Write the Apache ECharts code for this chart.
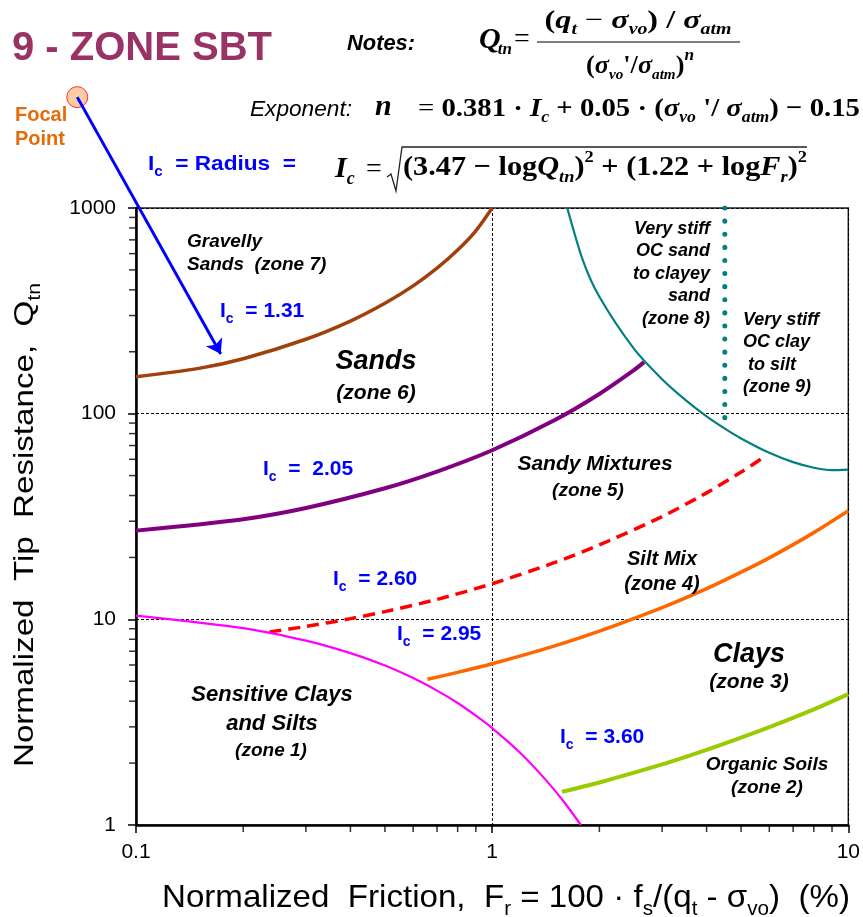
<!DOCTYPE html>
<html><head><meta charset="utf-8">
<script src="https://cdn.jsdelivr.net/npm/echarts@6/dist/echarts.min.js"></script>
<style>html,body{margin:0;padding:0;background:#fff}#c{width:863px;height:917px}</style>
</head><body><div id="c"></div>
<script>
// ---------- data ----------
const xTicks = [0.1, 1, 10];
const yTicks = [1, 10, 100, 1000];
const xMinorTicks = [0.2,0.3,0.4,0.5,0.6,0.7,0.8,0.9,2,3,4,5,6,7,8,9];
const yMinorTicks = [2,3,4,5,6,7,8,9,20,30,40,50,60,70,80,90,200,300,400,500,600,700,800,900];

const ic131F = [0.1, 0.15, 0.2, 0.3, 0.4, 0.5, 0.6, 0.7, 0.8, 0.9, 1.0];
const ic131Q = [151, 166, 185, 230, 282, 344, 418, 510, 625, 775, 1000];

const ic205F = [0.1, 0.2, 0.3, 0.5, 0.7, 1.0, 1.5, 2.0, 2.5, 2.67];
const ic205Q = [27.0, 30.7, 34.8, 43.4, 52.3, 66.4, 93.1, 124.6, 162.6, 178];

const ic260F = [0.237, 0.3, 0.4, 0.5, 0.7, 1.0, 1.5, 2.0, 3.0, 4.0, 5.0, 5.7];
const ic260Q = [8.69, 9.23, 10.08, 10.9, 12.5, 14.9, 18.9, 23.0, 31.6, 41.2, 52.0, 60.3];

const ic295F = [0.658, 0.8, 1.0, 1.5, 2.0, 3.0, 4.0, 5.0, 6.0, 8.0, 10];
const ic295Q = [5.11, 5.52, 6.08, 7.43, 8.76, 11.4, 14.1, 16.96, 19.9, 26.4, 33.7];

const ic360F = [1.57, 2.0, 3.0, 4.0, 5.0, 6.0, 8.0, 10];
const ic360Q = [1.45, 1.61, 1.97, 2.32, 2.66, 2.99, 3.65, 4.33];

const zone1F = [0.1, 0.2, 0.3, 0.4, 0.5, 0.6, 0.7, 0.8, 0.9, 1.0, 1.2, 1.4, 1.6, 1.775];
const zone1Q = [10.43, 9.07, 7.88, 6.85, 5.96, 5.18, 4.50, 3.92, 3.40, 2.96, 2.24, 1.69, 1.28, 1.0];

const zone8F = [1.625, 1.8, 2.0, 2.5, 3.0, 3.5, 4.0, 4.5, 5.0, 6.0, 7.0, 8.0, 9.0, 10];
const zone8Q = [1000, 553, 370, 207, 147, 116, 97, 84.6, 75.8, 64.5, 58.1, 54.6, 53.2, 53.5];

const zone9F = [4.5, 4.5];
const zone9Q = [1000, 85];

const focalF = [0.0684];
const focalQ = [3460];
const arrowTipF = [0.173];
const arrowTipQ = [195];

// ---------- helpers ----------
const zip = (a, b) => a.map((v, i) => [v, b[i]]);
const SANS = 'Liberation Sans', SERIF = 'Liberation Serif';
const mctx = document.createElement('canvas').getContext('2d');
function fontStr(p) {
  return (p.i ? 'italic ' : '') + (p.b ? 'bold ' : '') + p.s + 'px "' + (p.f || SERIF) + '"';
}
function seqGroup(parts, opt) {
  let x = 0; const els = [];
  for (const p of parts) {
    x += p.g || 0;
    const font = fontStr(p);
    mctx.font = font;
    const w = mctx.measureText(p.t).width;
    els.push({type: 'text', x: x, y: (p.dy || 0) - 0.35 * p.s,
      style: {text: p.t, font: font, fill: p.c || opt.color || '#000', align: 'left', verticalAlign: 'middle'}});
    x += w;
  }
  const off = opt.align === 'center' ? -x / 2 : opt.align === 'right' ? -x : 0;
  els.forEach(e => e.x += off);
  const sx = opt.width ? opt.width / x : 1;
  return {type: 'group', x: opt.x, y: opt.y, scaleX: sx, rotation: opt.rot || 0, children: els, z: 50};
}
function label(x, capTop, text, size, lh, align, extra) {
  extra = extra || {};
  return {type: 'text', x: x, y: capTop + 0.366 * size - lh / 2, z: 50,
    style: {text: text, font: (extra.noItalic ? '' : 'italic ') + 'bold ' + size + 'px "' + SANS + '"',
      fill: extra.color || '#000', align: align, verticalAlign: 'top', lineHeight: lh}};
}
function icLabel(x, base, rest, width) {
  return seqGroup([
    {t: 'I', s: 21, b: true, f: SANS},
    {t: 'c', s: 14, b: true, f: SANS, dy: 5},
    {t: rest, s: 21, b: true, f: SANS}
  ], {x: x, y: base, color: '#0000FF', width: width});
}

// ---------- graphics (text annotations) ----------
const S = (t, s, o) => Object.assign({t: t, s: s}, o || {});
const graphics = [
  seqGroup([S('9 - ZONE SBT', 40, {b: true, f: SANS})], {x: 12, y: 63, color: '#993366', width: 260}),
  seqGroup([S('Notes:', 22, {b: true, i: true, f: SANS})], {x: 347, y: 52, width: 68}),
  // Qtn formula
  seqGroup([S('Q', 30, {b: true, i: true}), S('tn', 17, {b: true, i: true, dy: 5, g: -3})], {x: 479, y: 51}),
  seqGroup([S('=', 28)], {x: 514, y: 49}),
  {type: 'line', z: 50, shape: {x1: 537, y1: 42, x2: 740, y2: 42}, style: {stroke: '#555', lineWidth: 1.5}},
  seqGroup([S('(', 26, {b: true}), S('q', 26, {b: true, i: true}), S('t', 16, {b: true, i: true, dy: 5}),
    S(' − ', 26), S('σ', 26, {b: true, i: true}), S('vo', 16, {b: true, i: true, dy: 5}),
    S(') / ', 26, {b: true}), S('σ', 26, {b: true, i: true}), S('atm', 16, {b: true, i: true, dy: 5})],
    {x: 638, y: 30, align: 'center', width: 187}),
  seqGroup([S('(', 26, {b: true}), S('σ', 26, {b: true, i: true}), S('vo', 15, {b: true, i: true, dy: 5}),
    S('\'/', 26, {b: true}), S('σ', 26, {b: true, i: true}), S('atm', 15, {b: true, i: true, dy: 5}),
    S(')', 26, {b: true}), S('n', 17, {b: true, i: true, dy: -13})],
    {x: 640, y: 75, align: 'center', width: 108}),
  // exponent
  seqGroup([S('Exponent:', 22, {i: true, f: SANS})], {x: 250, y: 118, width: 102}),
  seqGroup([S('n', 30, {b: true, i: true})], {x: 375, y: 118}),
  seqGroup([S('= ', 26), S('0.381 · ', 26, {b: true}), S('I', 26, {b: true, i: true}), S('c', 16, {b: true, i: true, dy: 5}),
    S(' + 0.05 · (', 26, {b: true}), S('σ', 26, {b: true, i: true}), S('vo', 16, {b: true, i: true, dy: 5}),
    S(' \'/ ', 26, {b: true}), S('σ', 26, {b: true, i: true}), S('atm', 16, {b: true, i: true, dy: 5}),
    S(') − 0.15', 26, {b: true})], {x: 418, y: 118, width: 442}),
  // Ic radius
  icLabel(148, 172, '  = Radius  =', 148),
  seqGroup([S('I', 30, {b: true, i: true}), S('c', 18, {b: true, i: true, dy: 6})], {x: 335, y: 180}),
  seqGroup([S('=', 28)], {x: 366, y: 179}),
  {type: 'polyline', z: 50, shape: {points: [[387, 177], [391, 174], [396, 191], [402, 147], [807, 147]]},
    style: {stroke: '#222', lineWidth: 1.3, fill: null}},
  seqGroup([S('(3.47 − ', 28, {b: true}), S('log', 28, {b: true}), S('Q', 28, {b: true, i: true}),
    S('tn', 17, {b: true, i: true, dy: 6}), S(')', 28, {b: true}), S('2', 17, {b: true, dy: -14}),
    S(' + (1.22 + ', 28, {b: true}), S('log', 28, {b: true}), S('F', 28, {b: true, i: true}),
    S('r', 17, {b: true, i: true, dy: 6}), S(')', 28, {b: true}), S('2', 17, {b: true, dy: -14})],
    {x: 403, y: 178, width: 404}),
  // focal point
  label(15, 108, 'Focal\nPoint', 20, 24, 'left', {noItalic: true, color: '#E46C0A'}),
  // Ic labels
  icLabel(220, 319, '  = 1.31'),
  icLabel(263, 477, '  =  2.05'),
  icLabel(333, 587, '  = 2.60'),
  icLabel(397, 642, '  = 2.95'),
  icLabel(560, 745, '  = 3.60'),
  // zone labels
  label(187, 235, 'Gravelly\nSands  (zone 7)', 19, 23, 'left'),
  label(376, 352, 'Sands', 27, 30, 'center'),
  label(376, 386, '(zone 6)', 21, 24, 'center'),
  label(595, 457, 'Sandy Mixtures', 21, 24, 'center'),
  label(588, 484, '(zone 5)', 19, 24, 'center'),
  label(662, 552, 'Silt Mix\n(zone 4)', 20, 25, 'center'),
  label(749, 645, 'Clays', 27, 30, 'center'),
  label(749, 675, '(zone 3)', 21, 24, 'center'),
  label(767, 758, 'Organic Soils\n(zone 2)', 19, 23, 'center'),
  label(272, 687, 'Sensitive Clays\nand Silts', 22, 29, 'center'),
  label(271, 744, '(zone 1)', 19, 24, 'center'),
  label(710, 222, 'Very stiff\nOC sand\nto clayey\nsand\n(zone 8)', 18, 22.5, 'right'),
  label(743, 313, 'Very stiff\nOC clay\n to silt\n(zone 9)', 18, 22.5, 'left'),
  // axis names
  seqGroup([S('Normalized  Friction,  F', 32, {f: SANS}), S('r', 20, {f: SANS, dy: 7}),
    S(' = 100 · f', 32, {f: SANS}), S('s', 20, {f: SANS, dy: 7}), S('/(q', 32, {f: SANS}),
    S('t', 20, {f: SANS, dy: 7}), S(' - σ', 32, {f: SANS}), S('vo', 20, {f: SANS, dy: 7}),
    S(')  (%)', 32, {f: SANS})], {x: 162, y: 909, width: 688}),
  seqGroup([S('Normalized  Tip  Resistance,  Q', 28, {f: SANS}), S('tn', 18, {f: SANS, dy: 6})],
    {x: 35, y: 525, align: 'center', width: 484, rot: Math.PI / 2})
];

// ---------- chart ----------
const chart = echarts.init(document.getElementById('c'), null, {renderer: 'canvas'});
const curve = (name, F, Q, color, width, extra) => Object.assign({
  type: 'line', name: name, data: zip(F, Q), showSymbol: false, symbol: 'none', smooth: 0.25,
  lineStyle: {color: color, width: width}, z: 3, silent: true, animation: false
}, extra || {});

chart.setOption({
  animation: false,
  backgroundColor: '#fff',
  grid: {left: 136, right: 13, top: 208, bottom: 92, show: true, borderColor: '#222', borderWidth: 1.5},
  xAxis: {
    type: 'log', logBase: 10, min: xTicks[0], max: xTicks[xTicks.length - 1],
    axisLine: {show: true, lineStyle: {color: '#000', width: 2.5}},
    axisTick: {show: true, length: 8, lineStyle: {color: '#000', width: 1.5}},
    minorTick: {show: false},
    axisLabel: {color: '#000', fontSize: 21, fontFamily: SANS, margin: 17,
      formatter: v => String(+(+v).toPrecision(6))},
    splitLine: {show: true, lineStyle: {color: '#000', width: 1, type: [3, 2]}}
  },
  yAxis: {
    type: 'log', logBase: 10, min: yTicks[0], max: yTicks[yTicks.length - 1],
    axisLine: {show: true, lineStyle: {color: '#000', width: 2.5}},
    axisTick: {show: true, length: 8, lineStyle: {color: '#000', width: 1.5}},
    minorTick: {show: false},
    axisLabel: {color: '#000', fontSize: 21, fontFamily: SANS, margin: 20,
      formatter: v => String(+(+v).toPrecision(6))},
    splitLine: {show: true, lineStyle: {color: '#000', width: 1, type: [3, 2]}}
  },
  graphic: graphics,
  series: [
    curve('Ic=1.31', ic131F, ic131Q, '#A0410D', 3.5),
    curve('Ic=2.05', ic205F, ic205Q, '#800080', 4),
    curve('Ic=2.60', ic260F, ic260Q, '#FF0000', 3.5, {lineStyle: {color: '#FF0000', width: 3.5, type: [12, 7]}}),
    curve('Ic=2.95', ic295F, ic295Q, '#FF6600', 3.5),
    curve('Ic=3.60', ic360F, ic360Q, '#99CC00', 4),
    curve('zone1', zone1F, zone1Q, '#FF00FF', 2.2),
    curve('zone8', zone8F, zone8Q, '#008080', 2.2),
    curve('zone9', zone9F, zone9Q, '#008080', 5, {smooth: false,
      lineStyle: {color: '#008080', width: 5, type: [0.1, 13], cap: 'round'}}),
    {type: 'scatter', name: 'xminor', data: xMinorTicks.map(v => [v, yTicks[0]]), symbol: 'rect',
      symbolSize: [1.5, 6], symbolOffset: [0, 4], itemStyle: {color: '#000'}, clip: false, silent: true, z: 6},
    {type: 'scatter', name: 'yminor', data: yMinorTicks.map(v => [xTicks[0], v]), symbol: 'rect',
      symbolSize: [6, 1.5], symbolOffset: [-4, 0], itemStyle: {color: '#000'}, clip: false, silent: true, z: 6},
    {type: 'scatter', name: 'focal', data: zip(focalF, focalQ), symbol: 'circle', symbolSize: 21,
      itemStyle: {color: '#FAC090', borderColor: '#FF0000', borderWidth: 1}, clip: false, silent: true, z: 7},
    {type: 'lines', coordinateSystem: 'cartesian2d', name: 'arrow', clip: false, silent: true, z: 8,
      symbol: ['none', 'arrow'], symbolSize: 14,
      lineStyle: {color: '#0000FF', width: 3, opacity: 1, curveness: 0},
      data: [{coords: [[focalF[0], focalQ[0]], [arrowTipF[0], arrowTipQ[0]]]}]}
  ]
});
</script></body></html>
